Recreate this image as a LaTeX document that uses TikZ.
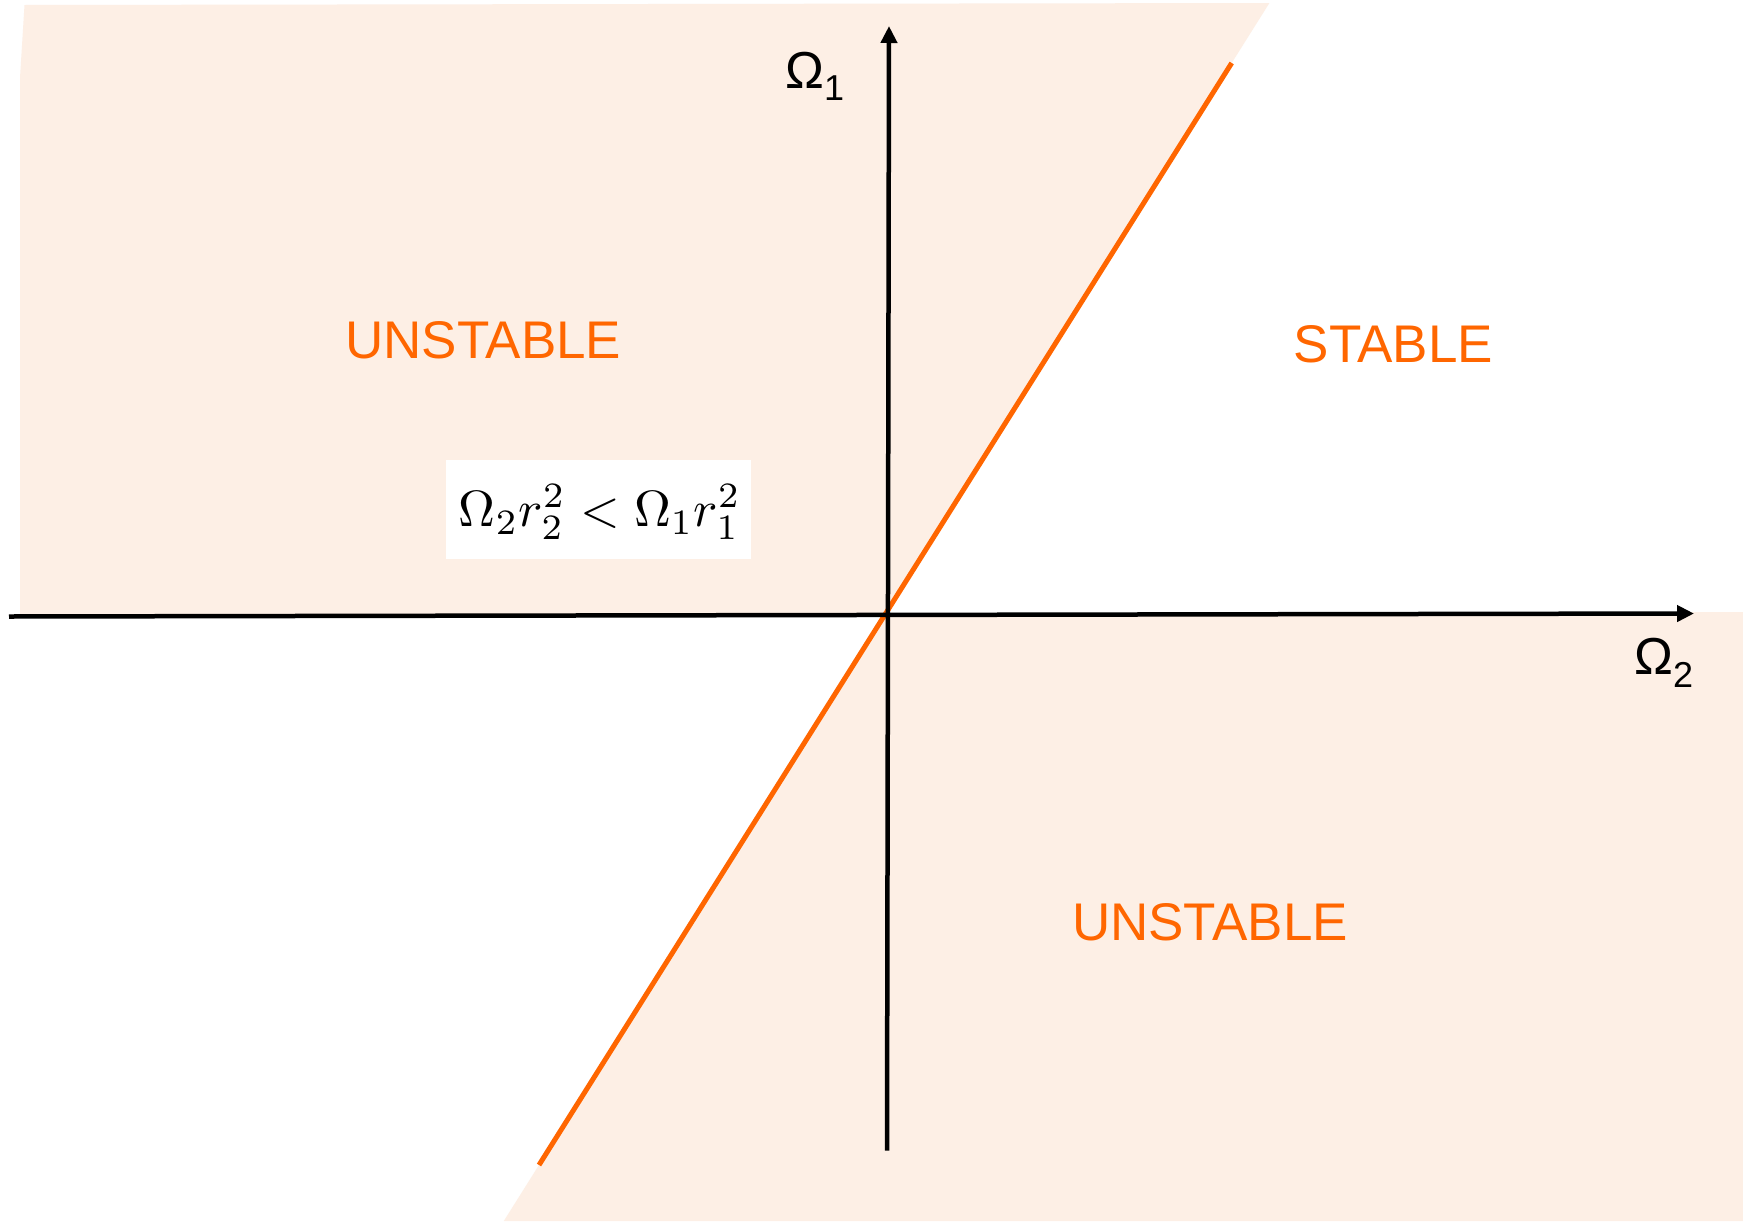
\documentclass[tikz,border=0pt]{standalone}
\usepackage{graphicx}
\usepackage{fontspec}
\newfontfamily\lsans{Liberation Sans}
\usetikzlibrary{arrows.meta}
\definecolor{shadecol}{RGB}{253,239,229}
\definecolor{orng}{RGB}{255,102,0}
\begin{document}
\begin{tikzpicture}[x=1pt,y=-1pt,
  lbl/.style={font=\lsans\fontsize{53}{60}\selectfont, text=orng, inner sep=0pt},
  axlbl/.style={font=\lsans\fontsize{52}{60}\selectfont, text=black, inner sep=0pt, anchor=base west},
  axisline/.style={line width=4.5pt, draw=black, -{Triangle[length=17pt,width=16pt]}},
  region/.style={fill=shadecol, draw=none},
  bound/.style={draw=orng, line width=5pt}]
\useasboundingbox (0,0) rectangle (1743,1221);
\fill[white] (0,0) rectangle (1743,1221);
% key points
\coordinate (O) at (885.3,614);
\coordinate (ltop) at (1231.7,63);
\coordinate (lbot) at (539,1165);
\coordinate (xs) at (9,616.5);
\coordinate (xe) at (1694,613.5);
\coordinate (ys) at (887,1150.5);
\coordinate (ye) at (889,26);
% shaded unstable regions
\fill[region] (24.5,5) -- (1269.4,3) -- (O) -- (20,614) -- (20,78) -- cycle;
\fill[region] (O) -- (1743,612) -- (1743,1221) -- (503.8,1221) -- cycle;
% boundary line
\draw[bound] (ltop) -- (lbot);
% axes
\draw[axisline] (xs) -- (xe);
\draw[axisline] (ys) -- (ye);
% axis labels
\node[axlbl] (w1) at (785,88) {Ω\raisebox{-12pt}{\fontsize{36}{40}\selectfont 1}};
\node[axlbl] (w2) at (1634,674) {Ω\raisebox{-13pt}{\fontsize{36}{40}\selectfont 2}};
% region labels
\node[lbl] (u1) at (483.3,340) {UNSTABLE};
\node[lbl] (s) at (1393.3,344.5) {STABLE};
\node[lbl] (u2) at (1210,922) {UNSTABLE};
% formula
\node[fill=white, draw=none, minimum width=304.7pt, minimum height=99.3pt, inner sep=0pt] (fbox) at (598.3,509.7) {};
\node[inner sep=0pt] (f) at (600,512) {\scalebox{5.1}{$\Omega_2 r_2^2 < \Omega_1 r_1^2$}};
\end{tikzpicture}
\end{document}
